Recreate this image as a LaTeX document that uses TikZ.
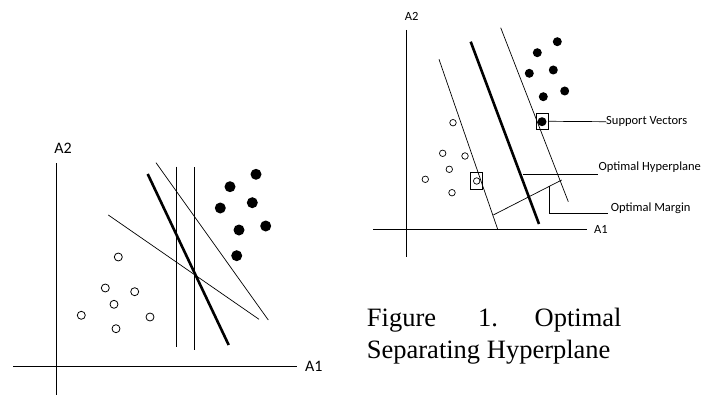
\documentclass[tikz,border=0pt]{standalone}
\usepackage{fontspec}
\setmainfont{Liberation Serif}
\newfontfamily\lblfont{Carlito}
\begin{document}
\begin{tikzpicture}[x=1pt,y=-1pt,
  thinln/.style={line width=0.7pt},
  thickln/.style={line width=2.6pt},
  axisln/.style={line width=1pt},
  fdotL/.style={circle,fill=black,inner sep=0pt,minimum size=11pt},
  odotL/.style={circle,draw=black,line width=0.8pt,inner sep=0pt,minimum size=8pt},
  fdotR/.style={circle,fill=black,inner sep=0pt,minimum size=9pt},
  odotR/.style={circle,draw=black,line width=0.7pt,inner sep=0pt,minimum size=6.5pt},
  lblL/.style={font=\lblfont\fontsize{16}{18}\selectfont,inner sep=0pt},
  lblR/.style={font=\lblfont\fontsize{12.5}{14}\selectfont,inner sep=0pt},
  captext/.style={font=\fontsize{26.5}{30}\selectfont,inner sep=0pt},
  svbox/.style={draw=black,line width=0.8pt,inner sep=0pt,minimum width=12pt,minimum height=16.5pt}]
\useasboundingbox (0,0) rectangle (713,396);
\path[fill=white] (0,0) rectangle (713,396);

% ---------- left diagram ----------
\draw[axisln] (56.7,163) -- (56.7,395);
\draw[axisln] (13,366.7) -- (297,366.7);
\node[lblL] (lA2) at (63,148) {A2};
\node[lblL,anchor=west] (lA1) at (305,366) {A1};
\draw[thinln] (176,166.7) -- (176,347);
\draw[thinln] (194.3,167) -- (194.3,350);
\draw[thinln] (156,162.7) -- (268.3,320);
\draw[thinln] (108.3,215) -- (259,319.3);
\draw[thickln] (147.7,174) -- (228.7,345);
\foreach \p [count=\i] in {(256,174.3),(230,186.7),(252.3,202.7),(220.3,208),(239,230),(265.7,226),(236.7,255.7)}
  \node[fdotL] (lf\i) at \p {};
\foreach \p [count=\i] in {(118.3,257),(105.3,288),(134.7,291.7),(114,304.3),(81.3,315.3),(150,317),(116,328.7)}
  \node[odotL] (lo\i) at \p {};

% ---------- right diagram ----------
\draw[axisln] (406.7,30) -- (406.7,256.7);
\draw[axisln] (373.3,229.3) -- (586.7,229.3);
\node[lblR] (rA2) at (411.7,16.7) {A2};
\node[lblR,anchor=west] (rA1) at (594,229) {A1};
\draw[thinln] (439,59.3) -- (497.7,229.3);
\draw[thinln] (500.7,27.7) -- (568.3,201.7);
\draw[thickln] (470.7,41.7) -- (539,224);
\draw[thinln] (493.3,215) -- (561.7,180);
\foreach \p [count=\i] in {(557.3,41.7),(537.3,52.7),(553.3,70),(529.3,73.3),(564.7,91),(543.3,96.7),(542,121.7)}
  \node[fdotR] (rf\i) at \p {};
\foreach \p [count=\i] in {(453,122.7),(442.7,153.3),(465,156),(449.3,169.3),(425.3,179.3),(476.7,181),(452,192.7)}
  \node[odotR] (ro\i) at \p {};
\node[svbox] (sv1) at (542.8,121.3) {};
\node[svbox] (sv2) at (476.7,181) {};

\node[lblR,anchor=west] (tSV) at (606,121.7) {Support Vectors};
\node[lblR,anchor=west] (tOH) at (598.5,167.5) {Optimal Hyperplane};
\node[lblR,anchor=west] (tOM) at (610.7,208.5) {Optimal Margin};
\coordinate (hpP) at (523.3,174.3);
\coordinate (hpE) at (598.3,174.3);
\coordinate (mgP) at (549,186);
\coordinate (mgC) at (549,213.3);
\coordinate (mgE) at (607.5,213.3);
\draw[thinln] (sv1.east) -- (tSV.west);
\draw[thinln] (hpP) -- (hpE);
\draw[thinln] (mgP) -- (mgC) -- (mgE);

% ---------- caption ----------
\node[captext,anchor=base west] (c1) at (366.7,326.7) {Figure};
\node[captext,anchor=base west] (c2) at (478,326.7) {1.};
\node[captext,anchor=base east] (c3) at (621.7,326.7) {Optimal};
\node[captext,anchor=base west] (c4) at (366.7,358.3) {Separating Hyperplane};
\end{tikzpicture}
\end{document}
